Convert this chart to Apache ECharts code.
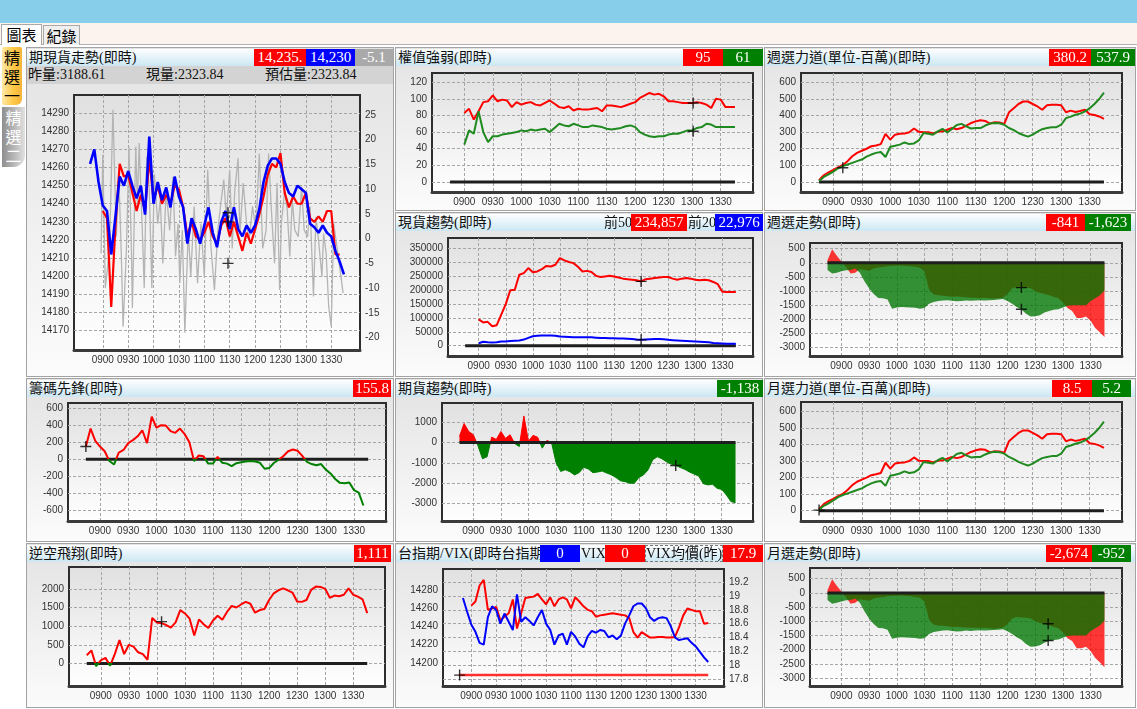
<!DOCTYPE html>
<html><head><meta charset="utf-8">
<script src="https://cdn.jsdelivr.net/npm/echarts@6/dist/echarts.min.js"></script>
<style>
body{margin:0;width:1137px;height:709px;overflow:hidden;background:#fff;position:relative;font-family:"Liberation Serif","Noto Sans CJK TC",serif}
.topbar{position:absolute;left:0;top:0;width:1137px;height:23px;background:#87CEEB}
.tabrow{position:absolute;left:0;top:23px;width:1137px;height:22px;background:#FDF3EE;border-bottom:1px solid #b0b0b0;box-sizing:border-box}
.tab{position:absolute;box-sizing:border-box;border:1px solid #a9a9a9;border-bottom:none;font:15px/19px "Noto Sans CJK TC",sans-serif;text-align:center;color:#000}
.tab.act{background:#fff}
.tab.in{background:#efefef}
.vt{position:absolute;box-sizing:border-box;font:16px/19px "Noto Sans CJK TC",sans-serif;text-align:center;padding-top:1px}
.v1{left:2px;top:47px;width:20px;height:58px;background:linear-gradient(to right,#ffe9a8,#ffc947 55%,#f4b43a);color:#000;border-radius:2px 2px 6px 2px}
.v2{left:2px;top:107px;width:23px;height:60px;background:linear-gradient(to right,#8e8e8e,#bdbdbd 60%,#e2e2e2);color:#fff;border-radius:0 0 12px 0}
.panel{position:absolute;box-sizing:border-box;border:1px solid #a3a3a3;background:linear-gradient(#e3e3e3,#fbfbfb)}
.tb{position:absolute;height:17px;box-sizing:border-box;background:linear-gradient(#fdfeff,#cbe7f3);font-size:14px;line-height:17px;color:#111;padding-left:2px;white-space:nowrap;z-index:2}
.sub{position:absolute;height:18px;background:#d3d3d3;font-size:14px;line-height:18px;color:#111;z-index:2}
.bx{position:absolute;height:17px;color:#fff;font-size:15px;line-height:17px;text-align:center;white-space:nowrap;overflow:hidden;z-index:3}
.tx{position:absolute;height:17px;color:#111;font-size:14px;line-height:17px;white-space:nowrap;z-index:3}
.R{background:#ff0000}.G{background:#008000}.B{background:#0000ff}.Y{background:#a9a9a9}
#c{position:absolute;left:0;top:0;width:1137px;height:709px;z-index:1}
</style></head><body>
<div class="topbar"></div>
<div class="tabrow"></div>
<div class="tab act" style="left:1px;top:24px;width:41px;height:21px">圖表</div>
<div class="tab in" style="left:43px;top:25px;width:37px;height:20px">紀錄</div>
<div class="vt v1">精<br>選<br>一</div>
<div class="vt v2">精<br>選<br>二</div>

<div class="panel" style="left:26px;top:47px;width:368px;height:330px"></div>
<div class="panel" style="left:395px;top:47px;width:368px;height:164px"></div>
<div class="panel" style="left:764px;top:47px;width:372px;height:164px"></div>
<div class="panel" style="left:395px;top:212px;width:368px;height:165px"></div>
<div class="panel" style="left:764px;top:212px;width:372px;height:165px"></div>
<div class="panel" style="left:26px;top:378px;width:368px;height:164px"></div>
<div class="panel" style="left:395px;top:378px;width:368px;height:164px"></div>
<div class="panel" style="left:764px;top:378px;width:372px;height:164px"></div>
<div class="panel" style="left:26px;top:543px;width:368px;height:165px"></div>
<div class="panel" style="left:395px;top:543px;width:368px;height:165px"></div>
<div class="panel" style="left:764px;top:543px;width:372px;height:165px"></div>

<!-- A -->
<div class="tb" style="left:27px;top:49px;width:366px">期現貨走勢(即時)</div>
<div class="bx R" style="left:254px;top:49px;width:52px">14,235.</div>
<div class="bx B" style="left:306px;top:49px;width:49px">14,230</div>
<div class="bx Y" style="left:355px;top:49px;width:38px">-5.1</div>
<div class="sub" style="left:27px;top:66px;width:366px"><span style="position:absolute;left:1px">昨量:3188.61</span><span style="position:absolute;left:119px">現量:2323.84</span><span style="position:absolute;left:238px">預估量:2323.84</span></div>
<!-- B -->
<div class="tb" style="left:396px;top:49px;width:366px">權值強弱(即時)</div>
<div class="bx R" style="left:683px;top:49px;width:40px">95</div>
<div class="bx G" style="left:723px;top:49px;width:40px">61</div>
<!-- C -->
<div class="tb" style="left:765px;top:49px;width:370px">週選力道(單位-百萬)(即時)</div>
<div class="bx R" style="left:1049px;top:49px;width:42px">380.2</div>
<div class="bx G" style="left:1091px;top:49px;width:44px">537.9</div>
<!-- D -->
<div class="tb" style="left:396px;top:214px;width:366px">現貨趨勢(即時)</div>
<div class="tx" style="left:604px;top:214px">前50</div>
<div class="bx R" style="left:631px;top:214px;width:56px">234,857</div>
<div class="tx" style="left:688px;top:214px">前20</div>
<div class="bx B" style="left:715px;top:214px;width:48px">22,976</div>
<!-- E -->
<div class="tb" style="left:765px;top:214px;width:370px">週選走勢(即時)</div>
<div class="bx R" style="left:1046px;top:214px;width:39px">-841</div>
<div class="bx G" style="left:1085px;top:214px;width:46px">-1,623</div>
<!-- F -->
<div class="tb" style="left:27px;top:380px;width:366px">籌碼先鋒(即時)</div>
<div class="bx R" style="left:353px;top:380px;width:38px">155.8</div>
<!-- G -->
<div class="tb" style="left:396px;top:380px;width:366px">期貨趨勢(即時)</div>
<div class="bx G" style="left:717px;top:380px;width:46px">-1,138</div>
<!-- H -->
<div class="tb" style="left:765px;top:380px;width:370px">月選力道(單位-百萬)(即時)</div>
<div class="bx R" style="left:1052px;top:380px;width:40px">8.5</div>
<div class="bx G" style="left:1092px;top:380px;width:39px">5.2</div>
<!-- I -->
<div class="tb" style="left:27px;top:545px;width:366px">逆空飛翔(即時)</div>
<div class="bx R" style="left:354px;top:545px;width:37px">1,111</div>
<!-- J -->
<div class="tb" style="left:396px;top:545px;width:366px">台指期/VIX(即時台指期</div>
<div class="bx B" style="left:540px;top:545px;width:40px">0</div>
<div class="tx" style="left:581px;top:545px">VIX</div>
<div class="bx R" style="left:605px;top:545px;width:40px">0</div>
<div class="tx" style="left:645px;top:545px;width:76px;height:15px;border:1px dashed #777;line-height:15px">VIX均價(昨)</div>
<div class="bx R" style="left:723px;top:545px;width:40px">17.9</div>
<!-- K -->
<div class="tb" style="left:765px;top:545px;width:370px">月選走勢(即時)</div>
<div class="bx R" style="left:1046px;top:545px;width:46px">-2,674</div>
<div class="bx G" style="left:1092px;top:545px;width:39px">-952</div>

<div id="c"></div>
<script>
// ---------- data ----------
const TIMES = ['0845','0850','0855',
 '0900','0905','0910','0915','0920','0925','0930','0935','0940','0945','0950','0955',
 '1000','1005','1010','1015','1020','1025','1030','1035','1040','1045','1050','1055',
 '1100','1105','1110','1115','1120','1125','1130','1135','1140','1145','1150','1155',
 '1200','1205','1210','1215','1220','1225','1230','1235','1240','1245','1250','1255',
 '1300','1305','1310','1315','1320','1325','1330','1335','1340','1345'];
const X_LABELS = ['0900','0930','1000','1030','1100','1130','1200','1230','1300','1330'];
const ZERO_T = ['0845','1345'];
const ZERO_V = [0, 0];

// 期現貨走勢
const A_BLUE = [14262,14270,14252,
 14239,14236,14212,14233,14255,14250,14258,14250,14243,14250,14234,14277,
 14240,14252,14242,14249,14238,14255,14244,14238,14218,14232,14226,14218,
 14228,14238,14224,14216,14230,14236,14226,14238,14226,14222,14228,14224,
 14228,14237,14252,14261,14265,14265,14262,14252,14246,14244,14250,14248,
 14246,14229,14227,14224,14228,14224,14222,14214,14208,14201];
const A_RED = [null,null,null,
 14236,14232,14183,14228,14262,14255,14256,14246,14236,14245,14236,14265,
 14242,14250,14240,14245,14240,14250,14248,14238,14222,14230,14222,14220,
 14224,14230,14222,14218,14228,14232,14222,14230,14222,14214,14224,14218,
 14226,14234,14244,14256,14262,14260,14268,14246,14238,14244,14240,14240,
 14246,14232,14230,14233,14230,14236,14236,14212,14212,null];
const A_GRAY_T = ['0858','0900','0903','0908','0912','0916','0919','0922','0924','0928','0931','0934','0935','0939','0941','0943','0947','0949','0952','0955','0958',
 '1001','1005','1008','1011','1015','1019','1023','1026','1029','1031','1034','1037','1041','1044','1048','1052','1056',
 '1100','1104','1108','1112','1116','1120','1123','1126','1130','1133','1136','1140','1142','1146','1150','1153','1157',
 '1201','1205','1209','1213','1216','1219','1223','1226','1229','1231','1235','1238','1241','1244','1247','1251','1255','1258',
 '1302','1305','1309','1312','1315','1319','1321','1324','1327','1330','1333','1337','1340','1344'];
const A_GRAY_V = [-3,17,-10,-2,26,0.4,12.5,-3.6,-17.8,-2,18.6,-3.6,-14,18.6,6.5,19.3,0.4,-10,16.6,9.8,-10,
 13,3,7.8,-5,9.8,1.7,12.5,-3.6,3,-9,1.7,-19,1.7,-7.7,6.5,-9,3,
 -7.7,13.9,-2,-10.4,1.7,7.8,11.9,4.4,13.9,-2,9.8,16.2,1,11.2,3,-0.3,6.5,
 1.7,17.2,-2,1.7,17.2,6.5,-5,11.2,-10.4,3,9.8,5.8,-3.6,7.8,1.7,0.4,10.5,1.7,
 0.4,6.5,-11.7,4.4,-0.3,-7.7,1,-3,-13.7,-17.8,3,-2,-5.7,-11];
const A_LEFT_TICKS = [14170,14180,14190,14200,14210,14220,14230,14240,14250,14260,14270,14280,14290];
const A_RIGHT_TICKS = [-20,-15,-10,-5,0,5,10,15,20,25];
const A_MARK_L = [['1128',14235],['1128',14230]];
const A_MARK_R = [['1128',-5]];

// 權值強弱
const B_RED = [null,null,null,
 83,88,75,85,96,97,104,97,99,98,90,96,
 93,95,96,93,92,95,98,94,90,89,91,86,
 88,87,87,88,89,85,92,92,91,90,92,94,
 96,101,104,107,105,106,103,97,97,96,95,95,
 95,96,95,93,89,100,99,90,90,90];
const B_GREEN = [null,null,null,
 45,62,58,85,60,48,55,55,57,58,59,60,
 62,61,63,62,63,64,60,65,70,68,67,70,
 68,66,66,68,67,66,64,63,64,65,67,68,
 66,60,57,55,54,55,55,57,58,58,60,62,
 62,65,66,70,69,66,66,66,66,66];
const B_TICKS = [0,20,40,60,80,100,120];
const B_MARK = [['1301',95],['1301',61]];

// 週選力道 / 月選力道
const C_RED = [10,40,58,
 72,88,102,125,155,175,188,200,215,220,228,290,
 255,285,290,292,300,322,302,300,300,292,302,305,
 315,325,318,325,340,355,365,372,368,352,360,358,
 350,420,445,470,485,485,470,455,435,462,465,465,
 462,420,430,422,428,435,408,404,395,380];
const C_GREEN = [6,30,45,
 62,82,95,105,115,125,135,152,165,175,180,150,
 212,218,225,238,228,232,250,295,290,285,305,320,
 298,320,343,350,335,322,325,325,340,352,356,354,
 345,325,312,295,283,273,285,303,318,325,330,330,
 345,385,394,405,412,425,445,470,500,538];
const C_TICKS = [0,100,200,300,400,500,600];
const C_MARK = [['0910',85]];
const H_MARK = [['0845',4]];

// 現貨趨勢
const D_RED = [null,null,null,
 95000,84000,86000,70000,74000,112000,150000,200000,202000,256000,262000,280000,
 265000,268000,276000,288000,286000,292000,316000,308000,302000,298000,285000,268000,
 270000,266000,252000,248000,250000,252000,250000,246000,242000,240000,238000,236000,
 232000,240000,242000,244000,246000,248000,248000,242000,238000,242000,244000,242000,
 238000,236000,238000,236000,230000,222000,195000,194000,194000,194000];
const D_BLUE = [null,null,null,
 9000,14000,12000,11000,12000,15000,15000,17000,18000,19000,22000,28000,
 34000,36000,37000,37000,37000,36000,33000,32000,31000,30000,30000,30000,
 30000,30000,29000,28000,28000,27000,27000,26000,26000,25000,24000,22000,
 21000,22000,23000,24000,24000,23000,21000,20000,19000,18000,17000,16000,
 15000,14000,13000,12000,10000,9000,8000,7000,7000,7000];
const D_TICKS = [0,50000,100000,150000,200000,250000,300000,350000];
const D_MARK = [['1200',232000],['1200',21000]];

// 週選走勢 / 月選走勢
const E_RED = [100,480,250,
 50,-150,-380,-350,-220,-250,-280,-200,-160,-150,-120,-100,
 -100,-90,-110,-120,-140,-170,-300,-950,-1120,-1150,-1160,-1180,
 -1200,-1190,-1210,-1220,-1230,-1230,-1240,-1230,-1250,-1260,-1250,-1230,
 -1100,-900,-850,-870,-880,-900,-1000,-1060,-1100,-1150,-1200,-1250,
 -1400,-1600,-1700,-1950,-1950,-1900,-2050,-2300,-2450,-2620];
const E_GREEN = [-250,-380,-350,
 -300,-260,-250,-200,-350,-650,-900,-1100,-1240,-1250,-1300,-1620,
 -1580,-1560,-1570,-1580,-1590,-1620,-1600,-1450,-1380,-1350,-1330,-1320,
 -1340,-1360,-1350,-1330,-1340,-1330,-1320,-1330,-1320,-1310,-1300,-1280,
 -1350,-1450,-1560,-1650,-1800,-1900,-1890,-1850,-1760,-1700,-1660,-1640,
 -1580,-1520,-1500,-1500,-1500,-1500,-1350,-1250,-1150,-980];
const E_TICKS = [-3000,-2500,-2000,-1500,-1000,-500,0,500];
const E_MARK = [['1215',-875],['1215',-1643]];
const K_MARK = [['1244',-1087],['1244',-1678]];

// 籌碼先鋒
const F_LINE = [150,360,215,
 150,95,-20,-60,80,110,190,225,270,340,190,500,
 370,400,395,330,310,360,295,200,-20,45,35,-50,
 -50,30,-40,-50,-80,-45,-33,-25,-20,-25,-40,-110,
 -100,-40,-5,40,95,115,100,40,-30,-55,-70,-55,
 -120,-165,-230,-275,-280,-270,-360,-390,-540,null];
const F_TICKS = [-600,-400,-200,0,200,400,600];
const F_MARK = [['0845',150]];

// 期貨趨勢
const G_AREA = [300,930,540,
 380,-150,-800,-700,260,150,540,200,380,-50,-200,1300,
 60,350,250,-280,100,0,-1000,-1420,-1340,-1430,-1590,-1480,
 -1220,-1300,-1480,-1450,-1400,-1500,-1580,-1720,-1880,-1920,-2000,-2000,
 -1720,-1590,-1340,-850,-700,-800,-950,-1060,-1120,-1230,-1320,-1450,
 -1550,-1650,-2020,-2080,-2050,-2250,-2300,-2570,-2900,-2950];
const G_TICKS = [-3000,-2000,-1000,0,1000];
const G_MARK = [['1240',-1130]];

// 逆空飛翔
const I_LINE = [220,350,-70,
 80,150,-60,250,630,250,500,450,300,250,100,1220,
 1100,1080,1030,960,1100,1430,1340,1200,750,1180,1050,950,
 1150,1280,1170,1380,1540,1500,1580,1650,1600,1360,1430,1460,
 1700,1880,1960,2010,1960,1900,1660,1650,1700,1970,2060,2050,
 2000,1760,1820,1800,1840,2010,1840,1790,1720,1350];
const I_TICKS = [0,500,1000,1500,2000];
const I_MARK = [['1005',1121]];

// 台指期/VIX
const J_FUT = [null,14271,14256,
 14242,14234,14222,14220,14250,14262,14258,14243,14254,14245,14236,14275,
 14245,14250,14246,14241,14250,14258,14243,14236,14220,14230,14232,14220,
 14234,14229,14221,14217,14229,14235,14233,14236,14235,14228,14230,14226,
 14230,14243,14252,14262,14265,14265,14260,14250,14246,14249,14250,14249,
 14240,14228,14225,14226,14227,14222,14218,14212,14206,14201];
const J_VIX = [null,null,null,
 18.86,18.92,19.15,19.23,18.80,18.82,18.84,18.65,18.70,18.75,18.95,18.53,
 18.75,18.97,18.98,18.99,19.03,18.95,18.88,18.98,18.85,18.95,18.98,18.95,
 18.82,18.98,18.92,18.85,18.80,18.78,18.70,18.72,18.73,18.74,18.75,18.74,
 18.73,18.72,18.68,18.48,18.40,18.48,18.44,18.40,18.40,18.41,18.41,18.40,
 18.40,18.41,18.55,18.72,18.82,18.80,18.78,18.78,18.60,18.61];
const J_BASE_V = [17.86, 17.86];
const J_LEFT_TICKS = [14200,14220,14240,14260,14280];
const J_RIGHT_TICKS = [17.8,18,18.2,18.4,18.6,18.8,19,19.2];
const J_MARK = [['0846',17.86]];

// ---------- helpers ----------
function hm(s){return parseInt(s.slice(0,2),10)*60+parseInt(s.slice(2),10);}
function fmt(v){const h=Math.floor(v/60),m=Math.round(v%60);return (h<10?'0':'')+h+(m<10?'0':'')+m;}
function pts(times, vals){const o=[];for(let i=0;i<vals.length;i++){if(vals[i]!==null)o.push([hm(times[i]),vals[i]]);}return o;}
function mpts(list){return list.map(p=>[hm(p[0]),p[1]]);}
const X_TICKS = X_LABELS.map(hm);
const X_MIN = 506, X_MAX = 844;
const LABEL = {fontSize:10,color:'#333',fontFamily:'Liberation Sans',margin:5};
const DASH = {color:'#a6a6a6',type:[3,2],width:1};
const GRID_BG = {type:'linear',x:0,y:0,x2:0,y2:1,colorStops:[{offset:0,color:'#e0e0e0'},{offset:1,color:'#ffffff'}]};

const grids=[],xAxes=[],yAxes=[],series=[];
function addGrid(r){
  grids.push({left:r[0],top:r[1],width:r[2],height:r[3],show:true,backgroundColor:GRID_BG,borderColor:'#2d2d2d',borderWidth:2});
  const gi=grids.length-1;
  xAxes.push({type:'value',gridIndex:gi,min:X_MIN,max:X_MAX,
    axisLine:{show:true,onZero:false,lineStyle:{color:'#3a3a3a',width:3}},
    axisTick:{show:false,customValues:X_TICKS},
    axisLabel:Object.assign({customValues:X_TICKS,formatter:fmt},LABEL),
    splitLine:{show:true,lineStyle:DASH}});
  return gi;
}
function addY(gi,min,max,ticks,pos,split){
  yAxes.push({type:'value',gridIndex:gi,min:min,max:max,position:pos||'left',
    axisLine:{show:false},axisTick:{show:false,customValues:ticks},
    axisLabel:Object.assign({customValues:ticks,formatter:v=>String(v)},LABEL),
    splitLine:{show:split!==false,lineStyle:DASH}});
  return yAxes.length-1;
}
function addLine(gi,yi,data,color,width,extra){
  const s=Object.assign({type:'line',xAxisIndex:gi,yAxisIndex:yi,data:data,symbol:'none',silent:true,
    lineStyle:{width:width}},extra||{});
  if(color){s.lineStyle.color=color;s.itemStyle={color:color};}
  series.push(s);return series.length-1;
}
function addZero(gi,yi){return addLine(gi,yi,pts(ZERO_T,ZERO_V),'#1e1e1e',3,{z:3});}
function addMarks(gi,yi,list){
  series.push({type:'scatter',xAxisIndex:gi,yAxisIndex:yi,data:mpts(list),silent:true,z:6,
    symbol:'path://M6,0L6,12M0,6L12,6',symbolSize:11,
    itemStyle:{color:'rgba(0,0,0,0)',borderColor:'#000',borderWidth:1.4}});
}
// red above zero, green below: colour split placed at the axis' zero
function signGrad(r,min,max){
  const f=max/(max-min);
  return {type:'linear',x:0,y:r[1],x2:0,y2:r[1]+r[3],global:true,colorStops:[
    {offset:0,color:'#ff0000'},{offset:f,color:'#ff0000'},{offset:f,color:'#008000'},{offset:1,color:'#008000'}]};
}

// ---------- panels ----------
// A 期現貨走勢
let R=[74,95,286,255];
let g=addGrid(R);
let yl=addY(g,14159.3,14300,A_LEFT_TICKS,'left',true);
let yr=addY(g,-22.5,29,A_RIGHT_TICKS,'right',false);
addLine(g,yr,pts(A_GRAY_T,A_GRAY_V),'#b4b4b4',1.3);
addLine(g,yl,pts(TIMES,A_RED),'#ff0000',2.2);
addLine(g,yl,pts(TIMES,A_BLUE),'#0000ff',2.6);
addMarks(g,yl,A_MARK_L);addMarks(g,yr,A_MARK_R);

// B 權值強弱
g=addGrid([432,73,321,119]);
yl=addY(g,-12,131,B_TICKS);
addZero(g,yl);
addLine(g,yl,pts(TIMES,B_RED),'#ff0000',2);
addLine(g,yl,pts(TIMES,B_GREEN),'#1f8a1f',2);
addMarks(g,yl,B_MARK);

// C 週選力道
g=addGrid([801,73,321,119]);
yl=addY(g,-61,657,C_TICKS);
addZero(g,yl);
addLine(g,yl,pts(TIMES,C_RED),'#ff0000',2);
addLine(g,yl,pts(TIMES,C_GREEN),'#1f8a1f',2);
addMarks(g,yl,C_MARK);

// D 現貨趨勢
g=addGrid([448,238,305,118]);
yl=addY(g,-37300,388700,D_TICKS);
addZero(g,yl);
addLine(g,yl,pts(TIMES,D_RED),'#ff0000',2);
addLine(g,yl,pts(TIMES,D_BLUE),'#0000ff',2);
addMarks(g,yl,D_MARK);

// E 週選走勢
function optArea(gi,yi,marks){
  addLine(gi,yi,pts(TIMES,E_RED),null,0,{areaStyle:{color:'rgba(255,0,0,0.78)',opacity:1},lineStyle:{width:0,color:'rgba(0,0,0,0)'}});
  addLine(gi,yi,pts(TIMES,E_GREEN),null,0,{areaStyle:{color:'rgba(0,118,0,0.78)',opacity:1},lineStyle:{width:0,color:'rgba(0,0,0,0)'}});
  addZero(gi,yi);
  addMarks(gi,yi,marks);
}
g=addGrid([810,243,312,113]);
yl=addY(g,-3294,702,E_TICKS);
optArea(g,yl,E_MARK);

// F 籌碼先鋒
R=[68,403,318,118];
g=addGrid(R);
yl=addY(g,-721,659,F_TICKS);
addZero(g,yl);
addLine(g,yl,pts(TIMES,F_LINE),null,2,{lineStyle:{width:2,color:signGrad(R,-721,659)}});
addMarks(g,yl,F_MARK);

// G 期貨趨勢
R=[442,403,311,118];
g=addGrid(R);
yl=addY(g,-3850,1934,G_TICKS);
addLine(g,yl,pts(TIMES,G_AREA),null,1,{lineStyle:{width:1,color:signGrad(R,-3850,1934)},areaStyle:{color:signGrad(R,-3850,1934),opacity:1}});
addZero(g,yl);
addMarks(g,yl,G_MARK);

// H 月選力道
g=addGrid([801,402,321,119]);
yl=addY(g,-62,657,C_TICKS);
addZero(g,yl);
addLine(g,yl,pts(TIMES,C_RED),'#ff0000',2);
addLine(g,yl,pts(TIMES,C_GREEN),'#1f8a1f',2);
addMarks(g,yl,H_MARK);

// I 逆空飛翔
R=[69,567,316,119];
g=addGrid(R);
yl=addY(g,-603,2584,I_TICKS);
addZero(g,yl);
addLine(g,yl,pts(TIMES,I_LINE),null,2,{lineStyle:{width:2,color:signGrad(R,-603,2584)}});
addMarks(g,yl,I_MARK);

// J 台指期/VIX
g=addGrid([443,569,281,117]);
yl=addY(g,14174.7,14302.8,J_LEFT_TICKS,'left',false);
yr=addY(g,17.703,19.388,J_RIGHT_TICKS,'right',true);
addLine(g,yr,pts(ZERO_T,J_BASE_V),'#ff3030',2.5);
addLine(g,yr,pts(TIMES,J_VIX),'#ff0000',2);
addLine(g,yl,pts(TIMES,J_FUT),'#0000ff',2);
addMarks(g,yr,J_MARK);

// K 月選走勢
g=addGrid([810,568,312,118]);
yl=addY(g,-3284,879,E_TICKS);
optArea(g,yl,K_MARK);

const chart=echarts.init(document.getElementById('c'),null,{renderer:'canvas',width:1137,height:709});
chart.setOption({animation:false,grid:grids,xAxis:xAxes,yAxis:yAxes,series:series});
</script>
</body></html>
